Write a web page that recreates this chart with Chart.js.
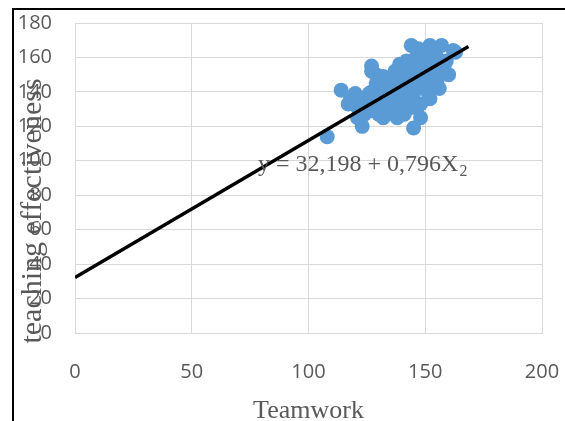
<!DOCTYPE html>
<html><head><meta charset="utf-8">
<script src="https://cdn.jsdelivr.net/npm/chart.js@4"></script>
<style>
html,body{margin:0;padding:0;background:#fff;}
#wrap{position:relative;width:565px;height:421px;overflow:hidden;}
#frame{position:absolute;left:12px;top:8px;right:0;bottom:0;border-top:2px solid #000;border-left:2px solid #000;pointer-events:none;}
canvas{position:absolute;left:0;top:0;}
</style></head><body>
<div id="wrap"><canvas id="c" width="565" height="421"></canvas><div id="frame"></div></div>
<script>
// Scatter data (Teamwork vs teaching effectiveness)
const teamwork = [108,114,117,118,120,121,121,122,123,124,124,125,126,126,127,127,127,128,128,129,129,129,130,131,132,132,133,133,134,134,135,135,136,136,137,137,138,138,138,139,139,140,141,141,141,142,142,144,143,144,144,144,145,145,146,146,147,147,148,148,148,149,150,150,151,151,152,152,153,153,154,155,155,156,157,157,158,159,160,162,163,142,146,121,127,148,141,145,150,152,147,136,133,139,144,154];
const effectiveness = [114,141,133,136,139,131,125,128,120,134,127,137,139,129,155,152,140,130,138,133,145,150,127,135,149,125,140,143,131,137,128,145,142,133,127,152,125,148,138,156,134,144,127,150,137,141,147,131,152,167,145,155,119,139,160,150,143,165,125,158,133,147,162,152,140,157,167,136,149,162,144,146,160,142,167,152,155,158,150,164,163,158,132,137,137,144,131,135,145,150,153,137,134,129,140,153];
// Fitted line y = a + b x
const intercept = 32.198;
const slope = 0.796;
const fitRange = [0, 168.5];
const xTickValues = [0, 50, 100, 150, 200];
const yTickValues = [0, 20, 40, 60, 80, 100, 120, 140, 160, 180];
const xTitle = 'Teamwork';
const yTitle = 'teaching effectiveness';
const eqMain = 'y = 32,198 + 0,796X';
const eqSub = '2';

const textPlugin = {
  id: 'texts',
  afterDraw(chart) {
    const c = chart.ctx;
    c.save();
    c.fillStyle = '#595959';
    c.font = '30px "Liberation Serif"';
    c.translate(33, 211);
    c.rotate(-Math.PI / 2);
    c.textAlign = 'center';
    c.textBaseline = 'middle';
    c.fillText(yTitle, 0, 0);
    c.restore();
    c.save();
    c.fillStyle = '#595959';
    c.font = '24px "Liberation Serif"';
    c.textAlign = 'left';
    c.textBaseline = 'alphabetic';
    c.fillText(eqMain, 258, 171);
    const w = c.measureText(eqMain).width;
    c.font = '16px "Liberation Serif"';
    c.fillText(eqSub, 258 + w + 1, 176);
    c.restore();
  }
};

const tickFont = { family: '"Open Sans"', size: 20 };
new Chart(document.getElementById('c').getContext('2d'), {
  type: 'scatter',
  data: {
    datasets: [
      {
        data: fitRange.map(x => ({ x: x, y: intercept + slope * x })),
        showLine: true, borderColor: '#000000', borderWidth: 3.5, pointRadius: 0, order: 0
      },
      {
        data: teamwork.map((x, i) => ({ x: x, y: effectiveness[i] })),
        backgroundColor: '#5B9BD5', borderColor: '#5B9BD5', borderWidth: 0, pointRadius: 7.5, order: 1
      }
    ]
  },
  options: {
    responsive: false, animation: false, devicePixelRatio: 1,
    layout: { padding: { left: 0, right: 23, top: 23, bottom: 0 } },
    plugins: { legend: { display: false }, tooltip: { enabled: false } },
    scales: {
      x: {
        type: 'linear', min: 0, max: 200,
        afterBuildTicks: s => { s.ticks = xTickValues.map(v => ({ value: v })); },
        afterFit: s => { s.height = 88; s.paddingLeft = 0; s.paddingRight = 0; },
        grid: { color: '#D9D9D9', drawTicks: false },
        border: { color: '#D9D9D9' },
        ticks: { padding: 27, color: '#595959', font: tickFont },
        title: { display: true, text: xTitle, color: '#595959', font: { family: '"Liberation Serif"', size: 26, lineHeight: 1 }, padding: { top: 0, bottom: -3 } }
      },
      y: {
        type: 'linear', min: 0, max: 180,
        afterBuildTicks: s => { s.ticks = yTickValues.map(v => ({ value: v })); },
        afterFit: s => { s.width = 75; s.paddingTop = 0; s.paddingBottom = 0; },
        grid: { color: '#D9D9D9', drawTicks: false },
        border: { color: '#D9D9D9' },
        ticks: { padding: 23, color: '#595959', font: tickFont }
      }
    }
  },
  plugins: [textPlugin]
});
</script>
</body></html>
